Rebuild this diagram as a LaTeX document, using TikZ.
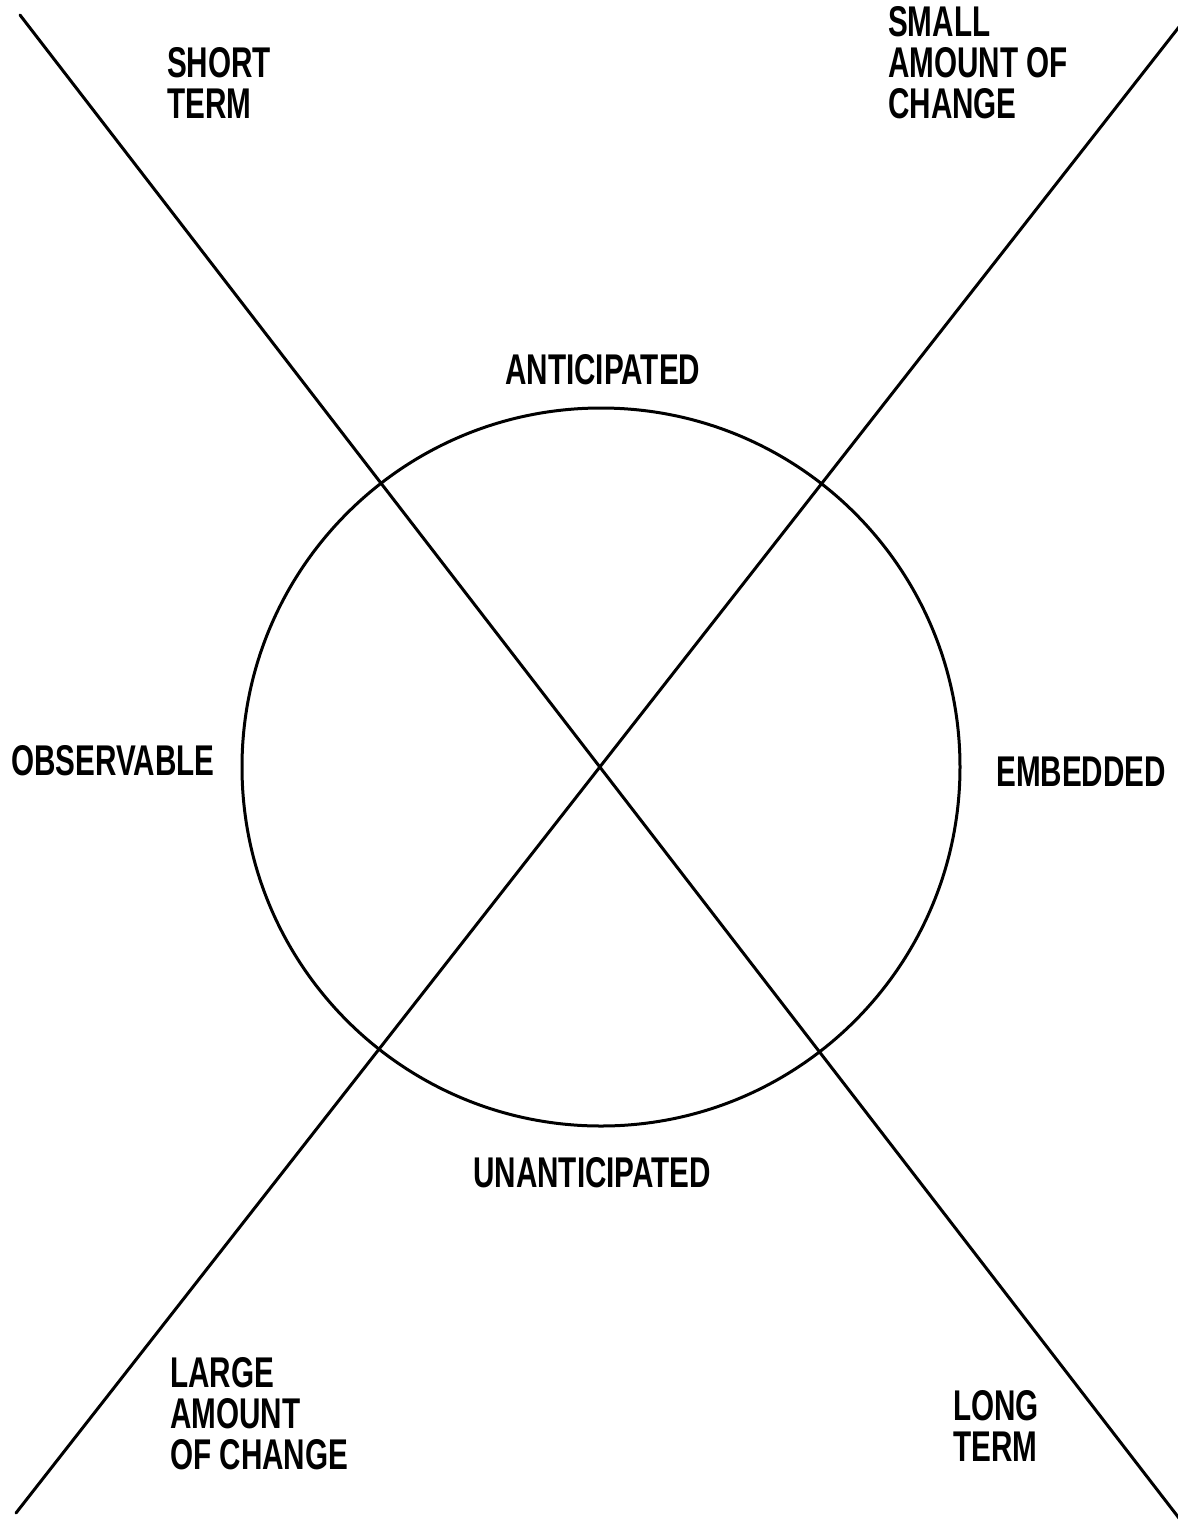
\documentclass[tikz,border=0pt]{standalone}
\usepackage{fontspec}
\setmainfont{Liberation Sans}[FakeStretch=0.69]
\begin{document}
\begin{tikzpicture}[x=1pt,y=-1pt,
  lbl/.style={anchor=north west,inner sep=0pt,align=left,
    font={\fontsize{43}{41}\selectfont\bfseries}},
  stroke/.style={line width=3pt,line cap=round}]
\useasboundingbox[fill=white] (0,0) rectangle (1178,1524);
\coordinate (c) at (601,767);
\coordinate (tl) at (20,15);
\coordinate (br) at (1182,1522);
\coordinate (bl) at (16,1513);
\coordinate (tr) at (1186,18);
\draw[stroke] (tl) -- (br);
\draw[stroke] (bl) -- (tr);
\node[draw,stroke,circle,minimum size=718pt,inner sep=0pt] (circ) at (c) {};
\node[lbl] (short) at (167,47) {SHORT\\TERM};
\node[lbl] (small) at (888,6) {SMALL\\AMOUNT OF\\CHANGE};
\node[lbl] (ant) at (505,354) {ANTICIPATED};
\node[lbl] (obs) at (11,745) {OBSERVABLE};
\node[lbl] (emb) at (996,757) {EMBEDDED};
\node[lbl] (unant) at (473,1157) {UNANTICIPATED};
\node[lbl] (large) at (170,1357) {LARGE\\AMOUNT\\OF CHANGE};
\node[lbl] (long) at (953,1390) {LONG\\TERM};
\end{tikzpicture}
\end{document}
